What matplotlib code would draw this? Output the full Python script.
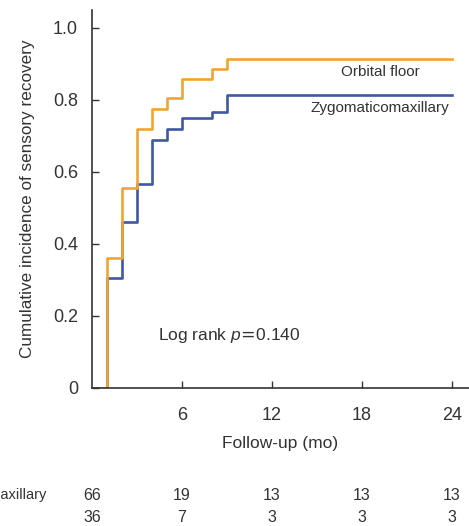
import matplotlib
matplotlib.use("Agg")
import matplotlib.pyplot as plt
import matplotlib.transforms as mtransforms

plt.rcParams["font.family"] = ["Liberation Sans", "DejaVu Sans"]
plt.rcParams["mathtext.fontset"] = "custom"
plt.rcParams["mathtext.it"] = "Liberation Sans:italic"

# follow-up times (months) and cumulative incidence
times = [0, 1, 2, 3, 4, 5, 6, 8, 9, 24]
inc_orbital = [0, 0.36, 0.555, 0.72, 0.775, 0.805, 0.857, 0.885, 0.915, 0.915]
inc_zygo = [0, 0.305, 0.46, 0.567, 0.69, 0.72, 0.75, 0.767, 0.813, 0.813]

# number at risk
risk_times = [0, 6, 12, 18, 24]
risk_zygo = [66, 19, 13, 13, 13]
risk_orbital = [36, 7, 3, 3, 3]

ORANGE = "#F0A431"
BLUE = "#3F58A6"
TXT = "#333333"

W, H = 469, 526
fig = plt.figure(figsize=(W / 100, H / 100), dpi=100)
ax = fig.add_axes([92 / W, (H - 388) / H, (W - 92) / W, 378 / H])

ax.step(times, inc_zygo, where="post", color=BLUE, lw=1.9)
ax.step(times, inc_orbital, where="post", color=ORANGE, lw=1.9)

ax.set_xlim(0, (W - 92) / 15)
ax.set_ylim(0, 1.05)
ax.set_xticks([6, 12, 18, 24])
ax.set_yticks([0, 0.2, 0.4, 0.6, 0.8, 1.0])
ax.set_yticklabels(["0", "0.2", "0.4", "0.6", "0.8", "1.0"])
ax.tick_params(direction="in", length=5, width=1, colors="#333333",
               labelsize=13, labelcolor=TXT)
ax.tick_params(axis="x", pad=14)
ax.tick_params(axis="y", pad=10)
for s in ["top", "right"]:
    ax.spines[s].set_visible(False)
for s in ["left", "bottom"]:
    ax.spines[s].set_color("#333333")
    ax.spines[s].set_linewidth(1.2)

ax.set_xlabel("Follow-up (mo)", fontsize=12.5, color=TXT, labelpad=8)
ax.set_ylabel("Cumulative incidence of sensory recovery", fontsize=12.3,
              color=TXT, labelpad=13)

ax.text(19.2, 0.878, "Orbital floor", ha="center", va="center",
        fontsize=11, color=TXT)
ax.text(19.2, 0.778, "Zygomaticomaxillary", ha="center", va="center",
        fontsize=11, color=TXT)
ax.text(4.4, 0.147, r"Log rank $p\!=\!$0.140", ha="left", va="center",
        fontsize=12.5, color=TXT)

# number-at-risk table
trans = mtransforms.blended_transform_factory(ax.transData, fig.transFigure)
y1 = 1 - 495 / H
y2 = 1 - 517 / H
for t, n1, n2 in zip(risk_times, risk_zygo, risk_orbital):
    ax.text(t, y1, str(n1), transform=trans, ha="center", va="center",
            fontsize=11.5, color=TXT, clip_on=False)
    ax.text(t, y2, str(n2), transform=trans, ha="center", va="center",
            fontsize=11.5, color=TXT, clip_on=False)

lab1 = fig.text(47 / W, y1, "Zygomaticomaxillary", ha="right", va="center",
                fontsize=10.5, color=TXT)
fig.canvas.draw()
x0 = fig.transFigure.inverted().transform(
    lab1.get_window_extent().p0)[0]
fig.text(x0, y2, "Orbital floor", ha="left", va="center",
         fontsize=10.5, color=TXT)

fig.savefig("out.png", dpi=100)
